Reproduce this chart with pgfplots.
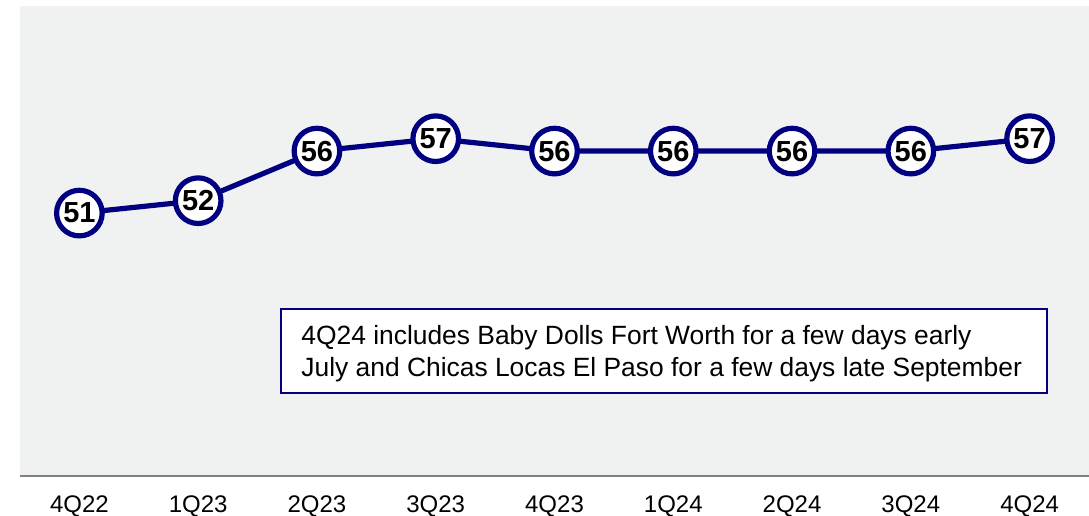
\documentclass[border=0pt]{standalone}
\usepackage{pgfplots}
\pgfplotsset{compat=1.18}
\usepackage{fontspec}
\setmainfont{Liberation Sans}
\definecolor{navy}{RGB}{0,0,128}
\definecolor{bg}{RGB}{240,241,241}
\definecolor{axgray}{RGB}{128,128,128}
\begin{document}
\begin{tikzpicture}
\useasboundingbox (0,0) rectangle (544.5pt,257.5pt);
\begin{axis}[
 at={(10pt,19.5pt)}, anchor=south west,
 width=534.5pt, height=235pt, scale only axis,
 xmin=-0.5, xmax=8.5, ymin=29.8, ymax=67.7,
 axis x line*=bottom, axis y line=none,
 x axis line style={axgray, line width=1pt},
 axis background/.style={fill=bg},
 xtick={0,1,2,3,4,5,6,7,8},
 xticklabels={4Q22,1Q23,2Q23,3Q23,4Q23,1Q24,2Q24,3Q24,4Q24},
 major tick length=0pt,
 xticklabel style={font=\fontsize{12}{14}\selectfont, text=black},
 xticklabel shift=6.5pt,
 ytick=\empty,
 clip=false,
 /pgf/number format/assume math mode=true,
]
\addplot[navy, line width=2.6pt, mark=*, mark size=11.4pt,
  mark options={fill=white, draw=navy, line width=2.6pt},
  nodes near coords,
  every node near coord/.append style={anchor=center, font=\bfseries\fontsize{14.5}{14.5}\selectfont, text=black}]
  coordinates {(0,51) (1,52) (2,56) (3,57) (4,56) (5,56) (6,56) (7,56) (8,57)};
\end{axis}
\draw[navy, fill=white, line width=0.75pt] (140.5pt,61pt) rectangle (523.5pt,103pt);
\node[anchor=west, align=left, inner sep=0pt, font=\fontsize{13.2}{16}\selectfont] at (150.5pt,80.5pt) {4Q24 includes Baby Dolls Fort Worth for a few days early\\July and Chicas Locas El Paso for a few days late September};
\end{tikzpicture}
\end{document}
